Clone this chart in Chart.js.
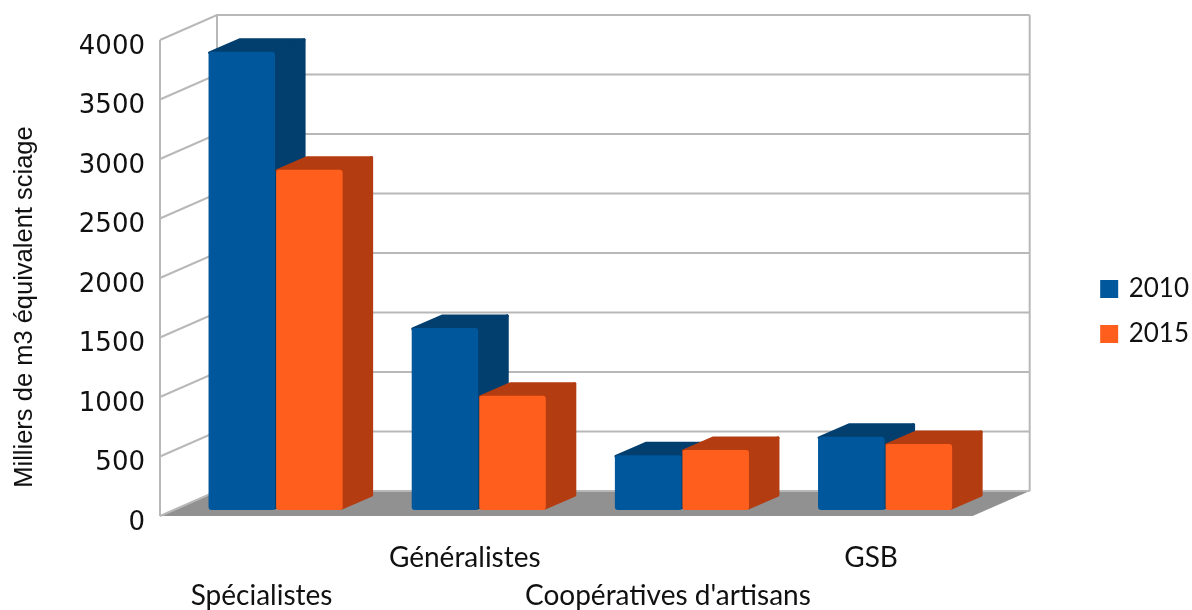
<!DOCTYPE html>
<html>
<head>
<meta charset="utf-8">
<script src="https://cdn.jsdelivr.net/npm/chart.js@4"></script>
<style>
  html, body { margin: 0; padding: 0; background: #fff; }
  canvas { display: block; }
</style>
</head>
<body>
<canvas id="chart" width="1192" height="610"></canvas>
<script>
const categories = ['Spécialistes', 'Généralistes', "Coopératives d'artisans", 'GSB'];
const values2010 = [3850, 1530, 460, 615];
const values2015 = [2860, 960, 505, 555];

// depth of the box (walls) and of the bars, plus where the bars stand on the floor
const WALL_DX = 57, WALL_DY = 25;
const BAR_DX = 30, BAR_DY = 13;
const BAR_SHIFT_X = 14, BAR_SHIFT_Y = 6;

function polygon(ctx, points, color) {
  ctx.beginPath();
  points.forEach((p, i) => i ? ctx.lineTo(p[0], p[1]) : ctx.moveTo(p[0], p[1]));
  ctx.closePath();
  ctx.fillStyle = color;
  ctx.strokeStyle = color;
  ctx.lineWidth = 3;
  ctx.lineJoin = 'round';
  ctx.fill();
  ctx.stroke();
}

function drawBox(chart) {
  const { ctx, chartArea: a, scales: { y } } = chart;
  const top = y.getPixelForValue(y.max), bottom = y.getPixelForValue(0);
  ctx.save();
  // floor
  ctx.fillStyle = '#919191';
  ctx.beginPath();
  ctx.moveTo(a.left, bottom);
  ctx.lineTo(a.right, bottom);
  ctx.lineTo(a.right + WALL_DX, bottom - WALL_DY);
  ctx.lineTo(a.left + WALL_DX, bottom - WALL_DY);
  ctx.closePath();
  ctx.fill();
  // walls and grid
  ctx.strokeStyle = '#b8b8b8';
  ctx.lineWidth = 2;
  y.ticks.forEach(t => {
    const py = y.getPixelForValue(t.value);
    ctx.beginPath();
    ctx.moveTo(a.left, py);
    ctx.lineTo(a.left + WALL_DX, py - WALL_DY);
    ctx.lineTo(a.right + WALL_DX, py - WALL_DY);
    ctx.stroke();
  });
  ctx.beginPath();
  ctx.moveTo(a.left, top);
  ctx.lineTo(a.left, bottom);
  ctx.moveTo(a.left + WALL_DX, top - WALL_DY);
  ctx.lineTo(a.left + WALL_DX, bottom - WALL_DY);
  ctx.moveTo(a.right + WALL_DX, top - WALL_DY);
  ctx.lineTo(a.right + WALL_DX, bottom - WALL_DY);
  ctx.stroke();
  ctx.restore();
}

const box3d = {
  id: 'box3d',
  afterLayout(chart) {
    // legend and axis title are not centered on the canvas in the original
    chart.legend.left += 7;
    chart.legend.right += 7;
    chart.legend.top -= 13.5;
    chart.legend.bottom -= 13.5;
    chart.titleBlock.top -= 18;
    chart.titleBlock.bottom -= 18;
  },
  beforeDatasetsDraw(chart) {
    const ctx = chart.ctx;
    drawBox(chart);
    // 2015 has to sit on top of 2010, chart.js would paint them the other way round
    chart.data.datasets.forEach((ds, i) => {
      const meta = chart.getDatasetMeta(i);
      ctx.save();
      ctx.translate(BAR_SHIFT_X, -BAR_SHIFT_Y);
      meta.data.forEach(bar => {
        const l = bar.x - bar.width / 2 + 1, r = bar.x + bar.width / 2 - 1;
        const t = bar.y + 1, b = bar.base - 2;
        polygon(ctx, [[r, t], [r + BAR_DX, t - BAR_DY], [r + BAR_DX, b - BAR_DY], [r, b]], ds.sideColor);
        polygon(ctx, [[l, t], [l + BAR_DX, t - BAR_DY], [r + BAR_DX, t - BAR_DY], [r, t]], ds.sideColor);
      });
      meta.controller.draw();
      ctx.restore();
    });
    return false;
  }
};

new Chart(document.getElementById('chart'), {
  type: 'bar',
  plugins: [box3d],
  data: {
    labels: categories,
    datasets: [
      { label: '2010', data: values2010, backgroundColor: '#01579b', sideColor: '#023f6e' },
      { label: '2015', data: values2015, backgroundColor: '#ff5e1c', sideColor: '#b43c11' }
    ]
  },
  options: {
    responsive: false,
    animation: false,
    layout: { padding: { top: 40, left: 12, right: 0, bottom: 0 } },
    datasets: { bar: { categoryPercentage: 0.665, barPercentage: 0.985, borderRadius: 3, borderSkipped: false } },
    plugins: {
      tooltip: { enabled: false },
      title: {
        display: true,
        position: 'left',
        text: 'Milliers de m3 équivalent sciage',
        color: '#111',
        padding: 0,
        font: { family: '"Liberation Sans"', size: 25.5, weight: 'normal', lineHeight: '26px' }
      },
      legend: {
        position: 'right',
        labels: {
          usePointStyle: true,
          pointStyle: 'rect',
          boxWidth: 13,
          boxHeight: 18,
          padding: 19,
          color: '#111',
          font: { family: 'Lato', size: 26 }
        }
      }
    },
    scales: {
      x: {
        grid: { display: false, drawTicks: false },
        border: { display: false },
        afterFit(s) { s.height = 94; },
        ticks: {
          autoSkip: false,
          maxRotation: 0,
          padding: 23,
          color: '#111',
          font: { family: 'Lato', size: 28, lineHeight: '38px' },
          callback(value, index) {
            return index % 2 === 0 ? ['', categories[index]] : [categories[index], ''];
          }
        }
      },
      y: {
        min: 0,
        max: 4000,
        grid: { display: false, drawTicks: false },
        border: { display: false },
        afterFit(s) { s.width = 122; },
        ticks: {
          stepSize: 500,
          padding: 15,
          labelOffset: 7,
          color: '#111',
          format: { useGrouping: false },
          font: { family: '"DejaVu Sans"', size: 26 }
        }
      },
      // empty axis, keeps the room between the plot and the legend
      gap: {
        position: 'right',
        grid: { display: false, drawTicks: false },
        border: { display: false },
        ticks: { display: false },
        afterFit(s) { s.width = 104; }
      }
    }
  }
});
</script>
</body>
</html>
